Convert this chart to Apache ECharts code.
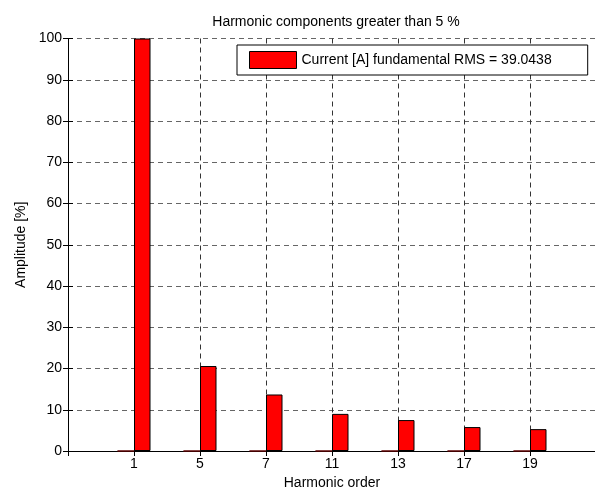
<!DOCTYPE html>
<html>
<head>
<meta charset="utf-8">
<script src="https://cdn.jsdelivr.net/npm/echarts@6/dist/echarts.min.js"></script>
<style>
  html, body { margin: 0; padding: 0; background: #fff; }
  #chart { width: 595px; height: 490px; }
</style>
</head>
<body>
<div id="chart"></div>
<script>
// harmonic orders shown under the bars
const harmonicOrders = ["1", "5", "7", "11", "13", "17", "19"];
// amplitude in % of fundamental
const currentAmplitude = [100, 20.6, 13.7, 9.0, 7.5, 5.8, 5.3];
// first (empty) group member, drawn as flat bars at baseline
const otherAmplitude = [0, 0, 0, 0, 0, 0, 0];
const yTicks = [0, 10, 20, 30, 40, 50, 60, 70, 80, 90, 100];

const seriesName = "Current [A] fundamental RMS = 39.0438";
const font = "Liberation Sans, Arial, sans-serif";

const chart = echarts.init(document.getElementById("chart"), null, { renderer: "canvas" });

const toPairs = (arr) => arr.map((v, i) => [i + 1, v]);

const option = {
  animation: false,
  backgroundColor: "#fff",
  title: {
    text: "Harmonic components greater than 5 %",
    left: 331,
    top: 10,
    textAlign: "center",
    textStyle: { fontFamily: font, fontSize: 14, fontWeight: "normal", color: "#000" },
  },
  legend: {
    data: [seriesName],
    left: 237,
    top: 45,
    orient: "vertical",
    backgroundColor: "#fff",
    borderColor: "#000",
    borderWidth: 1,
    borderRadius: 0,
    padding: [6, 36, 6, 12],
    icon: "rect",
    itemWidth: 47,
    itemHeight: 17,
    itemGap: 0,
    itemStyle: { color: "#ff0000", borderColor: "#000", borderWidth: 1 },
    textStyle: { fontFamily: font, fontSize: 14, color: "#000" },
  },
  grid: {
    left: 68,
    top: 38.5,
    right: -1,
    bottom: 39,
    containLabel: false,
    outerBoundsMode: "none",
  },
  xAxis: [
    {
      type: "value",
      min: 0,
      max: 8,
      interval: 1,
      name: "Harmonic order",
      nameLocation: "middle",
      nameGap: 21,
      nameTextStyle: { fontFamily: font, fontSize: 14, color: "#000" },
      axisLine: { show: true, lineStyle: { color: "#000", width: 1 } },
      axisTick: { show: true, inside: true, length: 5, lineStyle: { color: "#000" } },
      axisLabel: {
        fontFamily: font,
        fontSize: 14,
        color: "#000",
        margin: 6,
        showMinLabel: false,
        showMaxLabel: false,
        formatter: (v) => (v >= 1 && v <= harmonicOrders.length ? harmonicOrders[v - 1] : ""),
      },
      splitLine: { show: true, lineStyle: { color: "#333", type: [5, 4], width: 1 } },
    },
    {
      type: "value",
      position: "top",
      min: 0,
      max: 8,
      interval: 1,
      axisLine: { show: true, lineStyle: { color: "#000", width: 1 } },
      axisTick: { show: true, inside: true, length: 5, lineStyle: { color: "#000" } },
      axisLabel: { show: false },
      splitLine: { show: false },
    },
  ],
  yAxis: [
    {
      type: "value",
      min: yTicks[0],
      max: yTicks[yTicks.length - 1],
      interval: 10,
      name: "Amplitude [%]",
      nameLocation: "middle",
      nameGap: 40,
      nameRotate: 90,
      nameTextStyle: { fontFamily: font, fontSize: 14, color: "#000" },
      axisLine: { show: true, lineStyle: { color: "#000", width: 1 } },
      axisTick: { show: true, inside: true, length: 5, lineStyle: { color: "#000" } },
      axisLabel: { fontFamily: font, fontSize: 14, color: "#000", margin: 6 },
      splitLine: { show: true, lineStyle: { color: "#666", type: [5, 4], width: 1 } },
    },
    {
      type: "value",
      position: "right",
      min: 0,
      max: 100,
      interval: 10,
      axisLine: { show: true, lineStyle: { color: "#000", width: 1 } },
      axisTick: { show: true, inside: true, length: 5, lineStyle: { color: "#000" } },
      axisLabel: { show: false },
      splitLine: { show: false },
    },
  ],
  series: [
    {
      name: "other",
      type: "bar",
      barWidth: 16.5,
      barGap: "0%",
      data: toPairs(otherAmplitude),
      itemStyle: { color: "#7a0000", borderColor: "#5a0000", borderWidth: 1 },
      z: 3,
    },
    {
      name: seriesName,
      type: "bar",
      barWidth: 16.5,
      barGap: "0%",
      data: toPairs(currentAmplitude),
      itemStyle: { color: "#ff0000", borderColor: "#000", borderWidth: 1 },
      z: 3,
    },
  ],
};

chart.setOption(option);
</script>
</body>
</html>
